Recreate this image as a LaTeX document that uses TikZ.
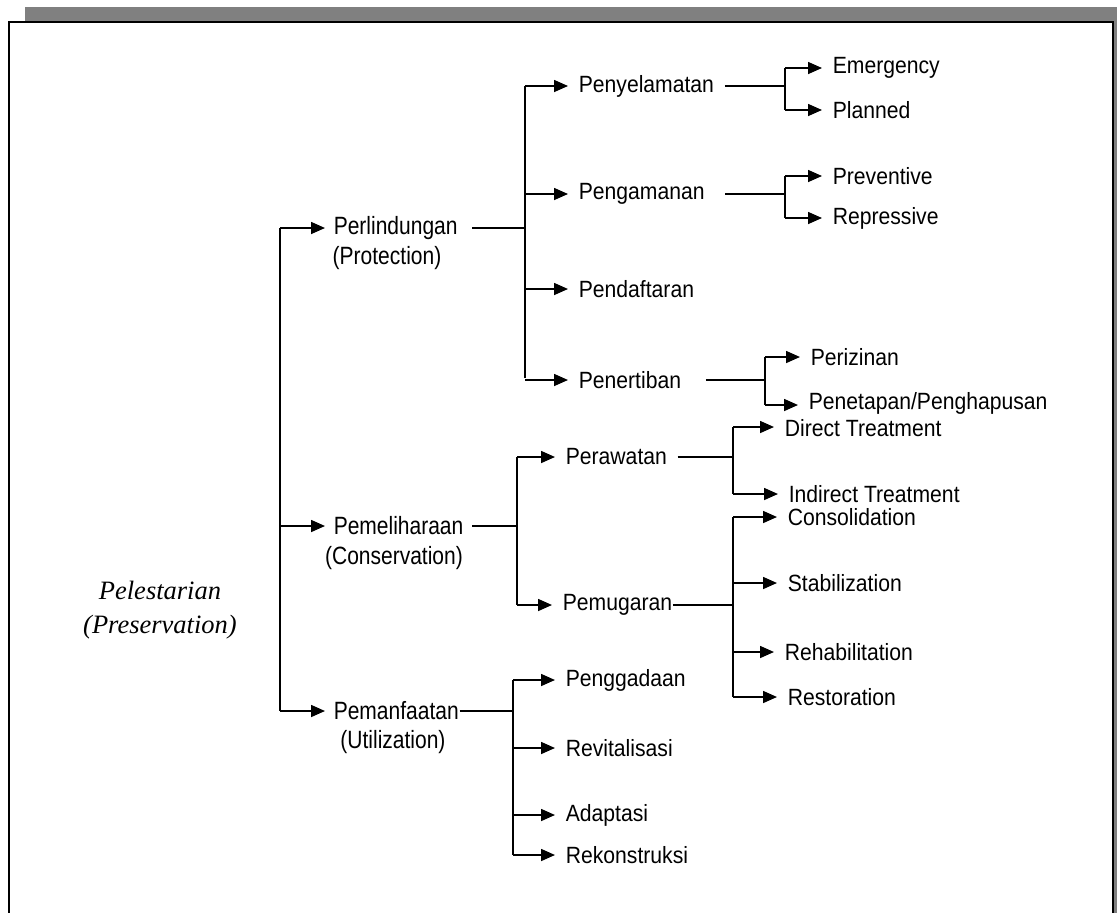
\documentclass[tikz,border=0pt]{standalone}
\usepackage{fontspec}
\setmainfont{Liberation Sans}
\newfontfamily\condfont[FakeStretch=0.84]{Liberation Sans}
\newfontfamily\itemfont[FakeStretch=0.9]{Liberation Sans}
\newfontfamily\rootfont{Liberation Serif}
\usepackage{tikz}
\usetikzlibrary{arrows.meta, positioning}

\begin{document}
\begin{tikzpicture}[x=1pt, y=-1pt, >={Triangle[length=14pt, width=12pt]}, line width=1.6pt,
    top/.style={anchor=west, inner xsep=8pt, inner ysep=1pt, font=\condfont\fontsize{25}{28}\selectfont},
    sub/.style={inner sep=1pt, font=\condfont\fontsize{25}{28}\selectfont},
    item/.style={anchor=west, inner xsep=10pt, inner ysep=1pt, font=\itemfont\fontsize{23.5}{27}\selectfont}]
    \useasboundingbox (0,0) rectangle (1117,913);

    % page frame with shadow
    \fill[black!50] (25,7) rectangle (1117,21);
    \fill[black!50] (1114,7) rectangle (1117,913);
    \draw[line width=2pt] (9,913) -- (9,22) -- (1113,22) -- (1113,913);

    \node (root) [align=center, font=\rootfont\itshape\fontsize{26.5}{34}\selectfont] at (160,610) {Pelestarian\\(Preservation)};

    % level 1
    \coordinate (t1) at (280,228);
    \coordinate (t3) at (280,711);
    \node (perl) [top] at (325,228) {Perlindungan};
    \node (perlEn) [sub] at (387,258) {(Protection)};
    \node (peme) [top] at (325,526) {Pemeliharaan};
    \node (pemeEn) [sub] at (394,558) {(Conservation)};
    \node (pman) [top] at (325,711) {Pemanfaatan};
    \node (pmanEn) [sub] at (393,742) {(Utilization)};

    \draw (t1) -- (t3);
    \draw[->] (t1) -- (perl);
    \draw[->] (t3 |- peme) -- (peme);
    \draw[->] (t3) -- (pman);

    % Perlindungan
    \coordinate (a1) at (525,86);
    \coordinate (a2) at (525,378);
    \node (pny) [item] at (568,86) {Penyelamatan};
    \node (pga) [item] at (568,194) {Pengamanan};
    \node (pdf) [item] at (568,289) {Pendaftaran};
    \node (ptb) [item] at (568,380) {Penertiban};

    \draw ([xshift=6pt]perl.east) -- (perl.east -| a1);
    \draw (a1) -- (a2);
    \draw[->] (a1) -- (pny);
    \draw[->] (a1 |- pga) -- (pga);
    \draw[->] (a1 |- pdf) -- (pdf);
    \draw[->] (a1 |- ptb) -- (ptb);

    \coordinate (c1) at (785,68);
    \coordinate (c2) at (785,110);
    \node (emg) [item] at (822,68) {Emergency};
    \node (pln) [item] at (822,110) {Planned};
    \draw (pny.east) -- (pny.east -| c1);
    \draw (c1) -- (c2);
    \draw[->] (c1) -- (emg);
    \draw[->] (c2) -- (pln);

    \coordinate (c3) at (785,176);
    \coordinate (c4) at (785,218);
    \node (prv) [item] at (822,176) {Preventive};
    \node (rep) [item] at (822,218) {Repressive};
    \draw ([xshift=10pt]pga.east) -- (pga.east -| c3);
    \draw (c3) -- (c4);
    \draw[->] (c3) -- (prv);
    \draw[->] (c4) -- (rep);

    \coordinate (c5) at (765,357);
    \coordinate (c6) at (765,405);
    \node (prz) [item] at (800,357) {Perizinan};
    \node (pnt) [item] at (798,403) {Penetapan/Penghapusan};
    \draw ([xshift=14pt]ptb.east) -- (ptb.east -| c5);
    \draw (c5) -- (c6);
    \draw[->] (c5) -- (prz);
    \draw[->] (c6) -- (c6 -| pnt.west);

    % Pemeliharaan
    \coordinate (b1) at (517,457);
    \coordinate (b2) at (517,605);
    \node (prw) [item] at (555,457) {Perawatan};
    \node (pmg) [item] at (552,605) {Pemugaran};
    \draw (peme.east) -- (peme.east -| b1);
    \draw (b1) -- (b2);
    \draw[->] (b1) -- (prw);
    \draw[->] (b2) -- (pmg);

    \coordinate (d1) at (733,427);
    \coordinate (d2) at (733,494);
    \node (dir) [item] at (774,428) {Direct Treatment};
    \node (ind) [item] at (778,494) {Indirect Treatment};
    \draw (prw.east) -- (prw.east -| d1);
    \draw (d1) -- (d2);
    \draw[->] (d1) -- (d1 -| dir.west);
    \draw[->] (d2) -- (ind);

    \coordinate (e1) at (733,517);
    \coordinate (e2) at (733,697);
    \node (con) [item] at (777,517) {Consolidation};
    \node (stb) [item] at (777,583) {Stabilization};
    \node (reh) [item] at (774,652) {Rehabilitation};
    \node (rst) [item] at (777,697) {Restoration};
    \draw ([xshift=-10pt]pmg.east) -- (pmg.east -| e1);
    \draw (e1) -- (e2);
    \draw[->] (e1) -- (con);
    \draw[->] (e1 |- stb) -- (stb);
    \draw[->] (e1 |- reh) -- (reh);
    \draw[->] (e2) -- (rst);

    % Pemanfaatan
    \coordinate (f1) at (513,680);
    \coordinate (f2) at (513,855);
    \node (pgd) [item] at (555,680) {Penggadaan};
    \node (rvt) [item] at (555,748) {Revitalisasi};
    \node (adp) [item] at (555,815) {Adaptasi};
    \node (rek) [item] at (555,855) {Rekonstruksi};
    \draw ([xshift=-8pt]pman.east) -- (pman.east -| f1);
    \draw (f1) -- (f2);
    \draw[->] (f1) -- (pgd);
    \draw[->] (f1 |- rvt) -- (rvt);
    \draw[->] (f1 |- adp) -- (adp);
    \draw[->] (f2) -- (rek);
\end{tikzpicture}
\end{document}
